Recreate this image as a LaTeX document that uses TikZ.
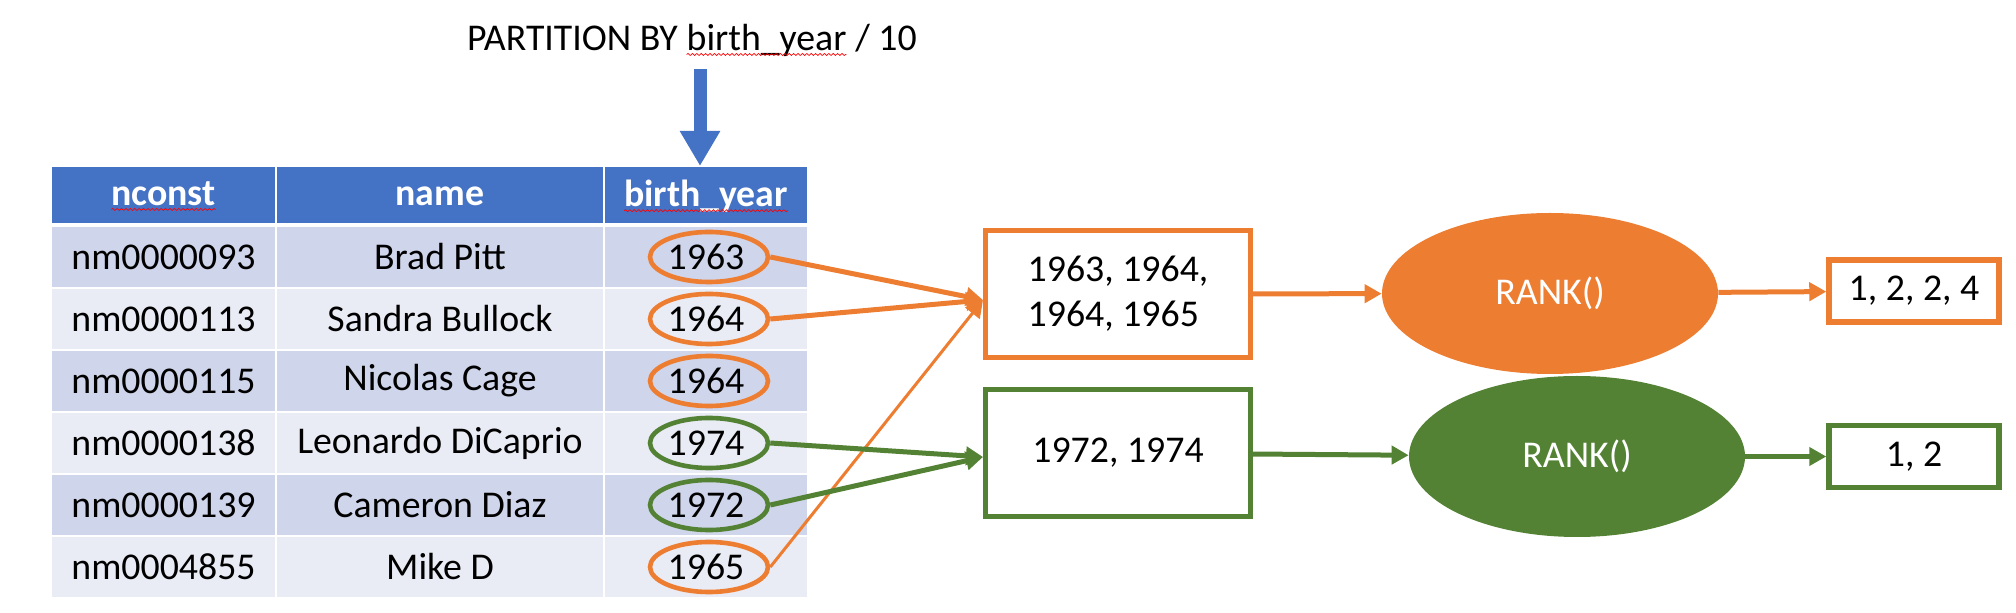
\documentclass[tikz,border=0pt]{standalone}
\usepackage{fontspec}
\setmainfont{Carlito}
\usepackage{tikz}
\usetikzlibrary{positioning, shapes.geometric, arrows.meta, calc, decorations.pathmorphing}
\definecolor{themeBlue}{RGB}{68, 114, 196}
\definecolor{themeOrange}{RGB}{237, 125, 49}
\definecolor{themeGreen}{RGB}{84, 130, 53}
\definecolor{bandDark}{RGB}{207, 213, 234}
\definecolor{bandLight}{RGB}{233, 235, 245}
\newcommand{\spellmark}[1]{\tikz[baseline=(word.base)]{%
    \node[inner sep=0, outer sep=0, minimum width=0, minimum height=0, draw=none, fill=none] (word) {#1};
    \draw[red, line width=0.35pt, decorate, decoration={snake, amplitude=0.5pt, segment length=2.2pt}]
        ([yshift=-2.2pt]word.base west) -- ([yshift=-2.2pt]word.base east);}}
\newcommand{\tableColumns}{%
    51/225/\spellmark{nconst},
    276/328/name,
    604/204/\spellmark{birth\_year}%
}
\newcommand{\actorRows}{%
    nm0000093/Brad Pitt/1963/themeOrange,
    nm0000113/Sandra Bullock/1964/themeOrange,
    nm0000115/Nicolas Cage/1964/themeOrange,
    nm0000138/Leonardo DiCaprio/1974/themeGreen,
    nm0000139/Cameron Diaz/1972/themeGreen,
    nm0004855/Mike D/1965/themeOrange%
}

\begin{document}
\begin{tikzpicture} [
        x=0.5pt, y=-0.5pt,
        font=\fontsize{18.9}{22.5}\selectfont,
        cell/.style={draw=white, line width=1pt, minimum height=31pt, inner sep=0, outer sep=0},
        head/.style={cell, fill=themeBlue, text=white, minimum height=30pt, font=\fontsize{18.9}{22.5}\selectfont\bfseries},
        band 1/.style={fill=bandDark},
        band 0/.style={fill=bandLight},
        year/.style={ellipse, draw, line width=2.3pt, minimum width=59pt, minimum height=25pt, inner sep=0},
        group/.style={draw, line width=2.5pt, fill=white, minimum width=132.5pt, minimum height=63.5pt, align=left},
        rank/.style={ellipse, minimum width=168pt, minimum height=80.5pt, inner sep=0, text=white},
        result/.style={draw, line width=2.75pt, fill=white, minimum width=85pt, minimum height=31pt},
        link/.style={line width=2.5pt, -{Triangle[length=8.5pt, width=9pt]}},
        partition/.style={themeBlue, line width=6.5pt, -{Triangle[length=17.5pt, width=19pt]}},
    ]
    \useasboundingbox (0,0) rectangle (2016,613);

    \foreach \x/\w/\colname [count=\c] in \tableColumns {
        \node[head, minimum width=\w*0.5pt] (head \c) at (\x+\w/2, 196) {\colname};
    }
    \draw[white, line width=3pt] (head 1.south west) -- (head 3.south east);

    \foreach \id/\name/\born/\decade [count=\i] in \actorRows {
        \pgfmathsetmacro{\rowY}{257+62*(\i-1)}
        \pgfmathtruncatemacro{\band}{mod(\i,2)}
        \node[cell, band \band, minimum width=112.5pt] (id \i) at (163.5, \rowY) {\id};
        \node[cell, band \band, minimum width=164pt] (name \i) at (440, \rowY) {\name};
        \node[cell, band \band, minimum width=102pt] (by \i) at (706, \rowY) {\born};
        \node[year, draw=\decade] (yr \i) at ([xshift=1.5pt]by \i) {};
    }

    \node (title) at (692, 40) {PARTITION BY \spellmark{birth\_year} / 10};
    \coordinate (arrowTop) at (700, 69);
    \draw[partition] (arrowTop) -- (arrowTop |- head 3.north);

    \node[group, draw=themeOrange] (groupA) at (1118, 294) {1963, 1964,\\1964, 1965};
    \node[group, draw=themeGreen] (groupB) at (1118, 453) {1972, 1974};
    \node[rank, fill=themeOrange] (rankA) at (1550, 293.5) {RANK()};
    \node[rank, fill=themeGreen] (rankB) at (1577, 456.5) {RANK()};
    \node[result, draw=themeOrange] (resultA) at (1914, 291) {1, 2, 2, 4};
    \node[result, draw=themeGreen] (resultB) at (1914, 456.5) {1, 2};

    \coordinate (groupA in) at ($(groupA.west)+(0,6)$);
    \coordinate (groupB in) at ($(groupB.west)+(0,4)$);
    \foreach \i in {1,2} \draw[link, themeOrange] (yr \i.east) -- (groupA in);
    \draw[link, themeOrange, line width=1.5pt] (yr 6.east) -- (groupA in);
    \foreach \i in {4,5} \draw[link, themeGreen] (yr \i.east) -- (groupB in);

    \draw[link, themeOrange] (groupA) -- (rankA);
    \draw[link, themeOrange] (rankA) -- (resultA);
    \draw[link, themeGreen] (groupB) -- (rankB);
    \draw[link, themeGreen] (rankB) -- (resultB);
\end{tikzpicture}
\end{document}
